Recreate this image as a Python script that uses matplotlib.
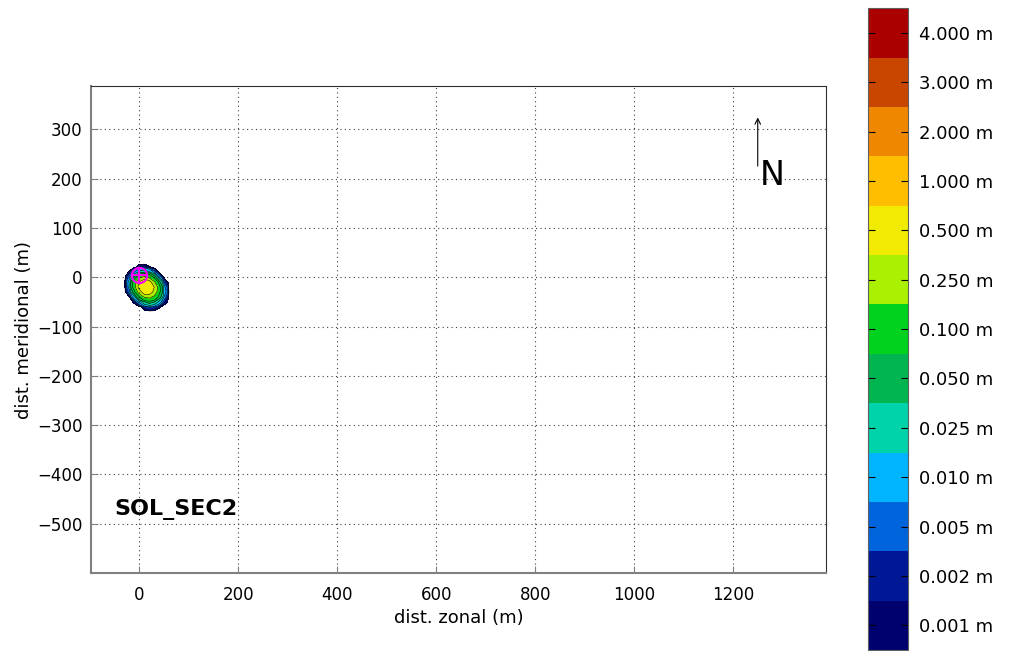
import numpy as np
import matplotlib
matplotlib.use("Agg")
import matplotlib.pyplot as plt
from matplotlib.colors import ListedColormap, BoundaryNorm
import matplotlib.cm as cm

# depth classes (m) and their colours, shallow -> deep
levels = [0.001, 0.002, 0.005, 0.010, 0.025, 0.050, 0.100,
          0.250, 0.500, 1.000, 2.000, 3.000, 4.000]
level_labels = ["%.3f m" % v for v in levels]
colors = ["#00006e", "#001896", "#0064dc", "#00b4ff", "#00d2aa",
          "#00b450", "#00d21e", "#aaf000", "#f0eb00", "#ffbe00",
          "#f08700", "#c84600", "#aa0000"]

# sampled water depth (m) around the source, 10 m grid
gx = np.arange(-40, 80, 10)
gy = np.arange(30, -80, -10)
depth = np.array([
    # x: -40   -30     -20     -10     0       10      20      30      40      50      60      70
    [0, 0,      0,      0,      0,      0,      0,      0,      0,      0,      0,      0],  # y=30
    [0, 0,      0,      0.0006, 0.0025, 0.003,  0.0013, 0,      0,      0,      0,      0],  # y=20
    [0, 0,      0.0015, 0.011,  0.034,  0.045,  0.028,  0.008,  0.0006, 0,      0,      0],  # y=10
    [0, 0,      0.008,  0.06,   0.2,    0.3,    0.2,    0.075,  0.011,  0,      0,      0],  # y=0
    [0, 0.0003, 0.015,  0.16,   0.55,   0.8,    0.65,   0.28,   0.06,   0.005,  0,      0],  # y=-10
    [0, 0,      0.014,  0.16,   0.65,   0.9,    0.85,   0.5,    0.13,   0.013,  0,      0],  # y=-20
    [0, 0,      0.007,  0.08,   0.35,   0.7,    0.7,    0.4,    0.12,   0.016,  0.0003, 0],  # y=-30
    [0, 0,      0.0008, 0.017,  0.1,    0.27,   0.3,    0.2,    0.07,   0.009,  0,      0],  # y=-40
    [0, 0,      0,      0.0015, 0.013,  0.045,  0.07,   0.05,   0.016,  0.0025, 0,      0],  # y=-50
    [0, 0,      0,      0,      0,      0.003,  0.006,  0.0045, 0.0014, 0,      0,      0],  # y=-60
    [0, 0,      0,      0,      0,      0,      0,      0,      0,      0,      0,      0],  # y=-70
])
source_x, source_y = 0, 4
case_name = "SOL_SEC2"

fig = plt.figure(figsize=(10.12, 6.51), dpi=100)
ax = fig.add_axes([0.0899, 0.1198, 0.7263, 0.748])

bounds = levels + [5.0]
ax.contourf(gx, gy, depth, levels=bounds, colors=colors)
ax.contour(gx, gy, depth, levels=levels, colors="k", linewidths=0.4)
ax.plot(source_x, source_y, "o", ms=11, mfc="none", mec="magenta", mew=1.5)
ax.plot(source_x, source_y, "+", ms=11, mec="magenta", mew=1.5)

ax.set_xlim(-98, 1388)
ax.set_ylim(-600, 388)
ax.set_xticks(np.arange(0, 1400, 200))
ax.set_yticks(np.arange(-500, 400, 100))
ax.grid(True, linestyle=(0, (1, 3)), color="#404040", linewidth=0.8)
ax.tick_params(direction="in", length=5, color="#808080", labelsize=12)
ax.tick_params(axis="x", pad=9)
ax.tick_params(axis="y", pad=6)
for s in ["left", "bottom"]:
    ax.spines[s].set_color("#808080")
    ax.spines[s].set_linewidth(1.5)
for s in ["top", "right"]:
    ax.spines[s].set_color("#303030")
ax.set_xlabel("dist. zonal (m)", fontsize=13, labelpad=4)
ax.set_ylabel("dist. meridional (m)", fontsize=13, labelpad=3)

# north arrow
ax.annotate("", xy=(1250, 330), xytext=(1250, 220),
            arrowprops=dict(arrowstyle="->", color="k", lw=0.8))
ax.text(1254, 188, "N", fontsize=24, ha="left", va="baseline")
ax.text(-50, -483, case_name, fontsize=16, fontweight="bold",
        ha="left", va="baseline")

# class colour bar
cax = fig.add_axes([0.8577, 0.0015, 0.0395, 0.986])
cmap = ListedColormap(colors)
norm = BoundaryNorm(np.arange(len(colors) + 1), cmap.N)
cb = fig.colorbar(cm.ScalarMappable(norm=norm, cmap=cmap), cax=cax)
cb.minorticks_off()
cb.set_ticks(np.arange(len(colors)) + 0.5)
cb.set_ticklabels(level_labels)
cax.tick_params(axis="y", which="both", labelsize=13, length=5,
                direction="in", left=True, right=True, pad=8)
cb.outline.set_edgecolor("#606060")

fig.savefig("out.png", dpi=100)
